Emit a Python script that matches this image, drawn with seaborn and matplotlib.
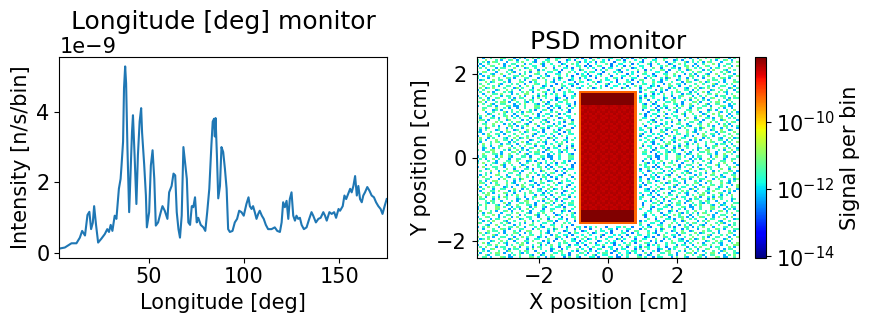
import numpy as np
import matplotlib
matplotlib.use("Agg")
import matplotlib.pyplot as plt
from matplotlib.colors import LogNorm
import seaborn as sns

# ---------------- left panel data ----------------
longitude = [3.0, 5.9, 9.4, 12.0, 13.8, 15.0, 16.5, 17.8, 18.8, 19.7, 20.6, 21.3, 22.3, 23.4,
             25.1, 26.9, 28.2, 29.1, 30.0, 30.9, 32.1, 33.0, 34.3, 35.2, 35.7, 36.5, 37.0,
             37.6, 38.1, 38.8, 39.7, 40.5, 41.2, 41.7, 42.6, 43.5, 44.3, 45.2, 46.0, 46.5,
             47.6, 48.5, 49.0, 50.2, 51.1, 52.0, 52.9, 53.7, 54.9, 56.3, 57.2, 58.4, 59.8,
             60.7, 62.0, 63.0, 63.9, 64.7, 65.6, 66.4, 67.3, 68.2, 69.1, 70.0, 70.8, 71.7,
             72.6, 73.4, 74.3, 75.2, 76.0, 77.3, 78.7, 79.7, 80.7, 81.8, 82.9, 83.6, 84.3,
             84.7, 85.1, 85.8, 86.5, 87.4, 88.2, 89.1, 90.0, 90.9, 91.7, 92.6, 94.0, 95.2,
             96.4, 97.5, 98.7, 99.9, 101.3, 102.4, 103.1, 104.0, 104.8, 105.7, 106.6, 107.5,
             108.3, 109.4, 110.4, 111.5, 112.7, 114.5, 116.2, 117.5, 118.9, 119.8, 120.6,
             121.5, 122.4, 123.3, 124.1, 125.0, 125.9, 126.8, 127.6, 128.5, 129.4, 130.3,
             131.5, 132.9, 134.3, 135.5, 136.4, 137.8, 139.1, 140.3, 141.7, 142.6, 143.5,
             144.9, 146.1, 147.4, 148.4, 149.7, 150.5, 151.9, 152.8, 153.7, 154.7, 155.8,
             156.6, 157.5, 158.4, 159.3, 160.1, 161.0, 161.9, 162.7, 163.6, 164.8, 165.9,
             167.1, 168.3, 169.4, 170.6, 171.8, 172.8, 173.9, 175.0]
intensity_e9 = [0.13, 0.16, 0.28, 0.28, 0.44, 0.63, 0.50, 1.08, 1.17, 0.68, 0.86, 1.33, 0.80, 0.30,
                0.41, 0.54, 0.68, 0.60, 0.80, 0.63, 1.06, 0.97, 1.82, 2.10, 2.48, 3.15, 4.67,
                5.28, 4.80, 2.96, 1.16, 2.39, 3.43, 3.90, 2.70, 1.39, 2.77, 3.72, 4.10, 3.40,
                2.50, 1.63, 0.73, 1.16, 2.48, 2.91, 2.10, 0.78, 0.87, 1.16, 1.33, 1.20, 0.97,
                1.72, 1.90, 2.25, 2.20, 1.16, 0.68, 0.44, 1.06, 3.00, 2.55, 2.10, 0.87, 0.80,
                1.33, 1.30, 1.58, 0.87, 1.00, 0.80, 0.73, 0.63, 1.16, 1.82, 3.05, 3.72, 3.80,
                3.30, 3.82, 2.77, 1.55, 1.90, 3.00, 2.86, 2.39, 1.82, 0.68, 0.60, 0.63, 0.87,
                0.97, 1.20, 1.16, 1.06, 1.39, 1.58, 1.33, 1.25, 1.33, 1.16, 0.97, 1.11,
                1.20, 1.06, 0.97, 0.80, 0.68, 0.68, 0.73, 0.63, 0.60, 0.87, 1.44,
                1.30, 1.48, 0.97, 1.53, 1.72, 1.06, 0.92, 1.06, 0.97, 1.00, 0.80,
                0.68, 0.73, 0.97, 1.16, 1.06, 0.87, 0.97, 1.00, 1.16, 1.06, 0.92,
                1.16, 1.11, 1.16, 1.00, 1.25, 1.20, 1.33, 1.63, 1.53, 1.67, 1.82,
                1.72, 1.90, 2.18, 1.63, 1.90, 1.53, 1.44, 1.63, 1.72, 1.87, 1.77,
                1.63, 1.58, 1.44, 1.33, 1.25, 1.11, 1.33, 1.53]
left_xticks = [50, 100, 150]
left_yticks = [0, 2e-9, 4e-9]

# ---------------- right panel data ----------------
psd_x_range = (-3.8, 3.8)
psd_y_range = (-2.4, 2.4)
psd_bins = (100, 100)
beam_half_width = 0.8
beam_half_height = 1.58
band_depth = 0.34
bg_log_levels = {'d': -13.4, 'b': -12.5, 'c': -11.75, 'g': -11.3}
beam_log_edge = -9.25
beam_log_core = -8.38
beam_log_band = -8.1
core_log_offsets = {'0': -0.06, '1': 0.0, '2': 0.06}
column_log_shift = [0.25, 0.2, 0.1, 0.0, -0.05, -0.05, 0.0, 0.1, 0.2, 0.25]
bg_tile = [
    "..cc.b...gc.bb..c...gg.c..b.cc...b.g..cb.",
    "c..gb..cc...b.c.g...cb..bc..g...cc.b..g..",
    ".b...c.gg.b..c..cb.c...g.b...cc.g..b...cg",
    "g.c.b...c..bg...c.gc..b...c.b..gg...c.b..",
    "..b..cg...c.b.cc...b.g..c...bc..b.c...g.c",
    ".c.g...b.cc...g.b..c.b.gc...c..b..cg...b.",
    "b...cc.g...b.c..gg...c..b.c.g..c...b.cc..",
    "..g.b...c.cb...c.g.b...gc..b...c.gc...b.c",
    "c....bc..g.c..b...cc.g...b.c.b...g..cc.b.",
    ".bc.g...c...bg.c...b..cc...g..b.c...cb..g",
    "g...c.b..cc...b..g.c...bc.b...gc..b...c..",
    "..c...gb...c.c..b...gc..c...b.g..cc.b...c",
    ".g.bc...c.b...gc..b.c...g.cb...c...b.gc..",
    "c...g.cc..b...c.b..gg...c..b.c...bc..g..b",
    "..b...c..gc.b...cc...b.g...c.bg...c..b.c.",
    "b.c.g...b...cc.g..b...c.cb...g..c.b...gc.",
    "...cb..g..c...b.c...gc..b...cc..g...b.c.b",
    "gc...b...c.gb...c.b..g...cc..b...g.c...c.",
    "..b.c.g...cb..c...g..b.c...gc.b...c..bg..",
    ".c...b.cc...g...bc..c...g..b...cc.b..g..c",
    "b..gc...b.c..b.g...cc..b...c.g..b...cg.b.",
    "..c...g.b..cc...b.c...gb..c...bc..g.c...b",
    "c.b.gc...b...c.g...cb..c.g...b..c...gb.c.",
    ".g...c.b..cg.b...c..b...cc..g...bc.b...c.",
    "b..c...gc...b.c.b..g.c...b..cc...g..c.b..",
]
core_tile = ["0121", "2010", "1202", "0211", "1020"]
cbar_limits = (9e-15, 8.3e-9)
cbar_ticks = [1e-14, 1e-12, 1e-10]

# ---------------- build PSD grid ----------------
nx, ny = psd_bins
xedges = np.linspace(*psd_x_range, nx + 1)
yedges = np.linspace(*psd_y_range, ny + 1)
xc = 0.5 * (xedges[:-1] + xedges[1:])
yc = 0.5 * (yedges[:-1] + yedges[1:])
Z = np.full((ny, nx), np.nan)
for i in range(ny):
    row = bg_tile[i % len(bg_tile)]
    for j in range(nx):
        code = row[(j + 13 * (i // len(bg_tile))) % len(row)]
        if code in bg_log_levels:
            Z[i, j] = 10 ** (bg_log_levels[code] + column_log_shift[j * len(column_log_shift) // nx])

inx = np.where(np.abs(xc) <= beam_half_width)[0]
iny = np.where(np.abs(yc) <= beam_half_height)[0]
j0, j1 = inx[0], inx[-1]
i0, i1 = iny[0], iny[-1]
Z[i0 - 1:i1 + 2, j0 - 1:j1 + 2] = np.nan
for i in range(i0, i1 + 1):
    for j in range(j0, j1 + 1):
        if i in (i0, i1) or j in (j0, j1):
            lv = beam_log_edge
        elif abs(yc[i]) >= beam_half_height - band_depth:
            lv = beam_log_band
        else:
            crow = core_tile[i % len(core_tile)]
            lv = beam_log_core + core_log_offsets[crow[j % len(crow)]]
        Z[i, j] = 10 ** lv

# ---------------- figure ----------------
W, H = 870, 325
fig = plt.figure(figsize=(W / 100, H / 100), dpi=100)

def ax_rect(x0, x1, y0, y1):
    return [x0 / W, 1 - y1 / H, (x1 - x0) / W, (y1 - y0) / H]

ax1 = fig.add_axes(ax_rect(59.3, 386.7, 57.3, 257.7))
ax2 = fig.add_axes(ax_rect(476.7, 738.7, 57.3, 257.7))
cax = fig.add_axes(ax_rect(755, 766, 57.3, 257.7))

TICK = 15
LAB = 15
TIT = 18

intensity = np.array(intensity_e9) * 1e-9
sns.lineplot(x=longitude, y=intensity, ax=ax1, color="#1f77b4", linewidth=1.5)
ax1.set_xlim(min(longitude), max(longitude))
ax1.set_xticks(left_xticks)
ax1.set_yticks(left_yticks)
ax1.set_xlabel("Longitude [deg]", fontsize=LAB)
ax1.set_ylabel("Intensity [n/s/bin]", fontsize=LAB)
ax1.set_title("Longitude [deg] monitor", fontsize=TIT)
ax1.tick_params(labelsize=TICK)
ax1.yaxis.get_offset_text().set_fontsize(TICK)

mesh = ax2.pcolormesh(xedges, yedges, np.ma.masked_invalid(Z), cmap="jet",
                      norm=LogNorm(*cbar_limits))
ax2.set_xlim(*psd_x_range)
ax2.set_ylim(*psd_y_range)
ax2.set_xticks([-2, 0, 2])
ax2.set_yticks([-2, 0, 2])
ax2.set_xlabel("X position [cm]", fontsize=LAB)
ax2.set_ylabel("Y position [cm]", fontsize=LAB)
ax2.set_title("PSD monitor", fontsize=TIT)
ax2.tick_params(labelsize=TICK)

cb = fig.colorbar(mesh, cax=cax)
cb.set_ticks(cbar_ticks)
cax.minorticks_off()
cb.set_label("Signal per bin", fontsize=LAB)
cax.tick_params(labelsize=TICK)

fig.savefig("out.png", dpi=100)
